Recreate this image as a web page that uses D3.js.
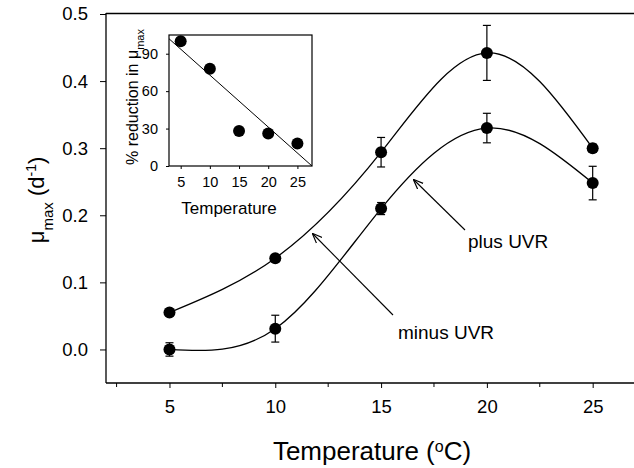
<!DOCTYPE html>
<html>
<head>
<meta charset="utf-8">
<script src="https://cdn.jsdelivr.net/npm/d3@7"></script>
<style>
  body { margin: 0; background: #fff; }
  svg { display: block; font-family: "Liberation Sans", Arial, sans-serif; }
</style>
</head>
<body>
<div id="chart"></div>
<script>
// temperatures (degC)
var temps = [5, 10, 15, 20, 25];

// mu max, upper curve (arrow says "minus UVR")
var upperMu = [0.055, 0.136, 0.294, 0.442, 0.300];
var upperErr = [0, 0, 0.022, 0.041, 0.006];

// mu max, lower curve (arrow says "plus UVR")
var lowerMu = [0.000, 0.031, 0.210, 0.330, 0.248];
var lowerErr = [0.010, 0.020, 0.009, 0.022, 0.025];

// inset: % reduction in mu max
var reduction = [100, 78, 28, 26, 18];
var fitLine = [[3, 102], [27.5, 0]];

var yTicks = [0.0, 0.1, 0.2, 0.3, 0.4, 0.5];
var xTicks = [5, 10, 15, 20, 25];
var xMinor = [2.5, 7.5, 12.5, 17.5, 22.5];
var insetYTicks = [0, 30, 60, 90];

var width = 634, height = 468;

var svg = d3.select("#chart").append("svg")
    .attr("width", width)
    .attr("height", height);

// main scales
var x = d3.scaleLinear().domain([2, 27]).range([106, 635]);
var y = d3.scaleLinear().domain([-0.05, 0.5]).range([383, 14]);

// frame top line
svg.append("line")
    .attr("x1", 106).attr("x2", 634)
    .attr("y1", 13.5).attr("y2", 13.5)
    .attr("stroke", "#000").attr("stroke-width", 1.3);

// y axis
var yAxis = svg.append("g")
    .attr("transform", "translate(106,0)")
    .call(d3.axisLeft(y).tickValues(yTicks).tickFormat(d3.format(".1f")).tickSize(6).tickPadding(12));
yAxis.select(".domain").attr("d", "M0,13V383");

// x axis
var xAxis = svg.append("g")
    .attr("transform", "translate(0,383)")
    .call(d3.axisBottom(x).tickValues(xTicks).tickFormat(d3.format("d")).tickSize(5).tickPadding(12));
xAxis.select(".domain").attr("d", "M106,0H634");
xAxis.selectAll(".minor").data(xMinor).enter().append("line")
    .attr("class", "minor")
    .attr("x1", function(d) { return x(d); })
    .attr("x2", function(d) { return x(d); })
    .attr("y1", 0).attr("y2", 4)
    .attr("stroke", "#000");

svg.selectAll(".domain").attr("stroke-width", 1.3);
svg.selectAll(".tick text").attr("font-size", 18.5).attr("fill", "#000")
    .attr("font-family", "Liberation Sans, Arial, sans-serif");

// axis titles
svg.append("text")
    .attr("x", 372).attr("y", 460)
    .attr("text-anchor", "middle")
    .attr("font-size", 26)
    .html('Temperature (<tspan baseline-shift="super" font-size="16">o</tspan>C)');

svg.append("text")
    .attr("transform", "translate(44,200) rotate(-90)")
    .attr("text-anchor", "middle")
    .attr("font-size", 22)
    .html('μ<tspan baseline-shift="sub" font-size="15">max</tspan> (d<tspan baseline-shift="super" font-size="14">-1</tspan>)');

// curves
var line = d3.line()
    .x(function(d) { return x(d[0]); })
    .y(function(d) { return y(d[1]); })
    .curve(d3.curveNatural);

[upperMu, lowerMu].forEach(function(series, si) {
    var errs = si === 0 ? upperErr : lowerErr;
    var pts = temps.map(function(t, i) { return [t, series[i], errs[i]]; });

    svg.append("path")
        .datum(pts)
        .attr("d", line)
        .attr("fill", "none")
        .attr("stroke", "#000")
        .attr("stroke-width", 1.3);

    var eb = svg.append("g").selectAll("g")
        .data(pts.filter(function(d) { return d[2] > 0; }))
        .enter().append("g");
    eb.append("line")
        .attr("x1", function(d) { return x(d[0]); })
        .attr("x2", function(d) { return x(d[0]); })
        .attr("y1", function(d) { return y(d[1] - d[2]); })
        .attr("y2", function(d) { return y(d[1] + d[2]); })
        .attr("stroke", "#000").attr("stroke-width", 1.2);
    [-1, 1].forEach(function(s) {
        eb.append("line")
            .attr("x1", function(d) { return x(d[0]) - 4; })
            .attr("x2", function(d) { return x(d[0]) + 4; })
            .attr("y1", function(d) { return y(d[1] + s * d[2]); })
            .attr("y2", function(d) { return y(d[1] + s * d[2]); })
            .attr("stroke", "#000").attr("stroke-width", 1.2);
    });

    svg.append("g").selectAll("circle")
        .data(pts)
        .enter().append("circle")
        .attr("cx", function(d) { return x(d[0]); })
        .attr("cy", function(d) { return y(d[1]); })
        .attr("r", 6)
        .attr("fill", "#000");
});

// arrow labels
svg.append("defs").append("marker")
    .attr("id", "arr")
    .attr("viewBox", "0 0 10 10")
    .attr("refX", 9).attr("refY", 5)
    .attr("markerWidth", 9).attr("markerHeight", 9)
    .attr("orient", "auto")
    .append("path")
    .attr("d", "M0,1L10,5L0,9")
    .attr("fill", "none")
    .attr("stroke", "#000")
    .attr("stroke-width", 1.2);

svg.append("line")
    .attr("x1", 465).attr("y1", 230)
    .attr("x2", 414).attr("y2", 180)
    .attr("stroke", "#000").attr("stroke-width", 1.1)
    .attr("marker-end", "url(#arr)");
svg.append("text")
    .attr("x", 468).attr("y", 248)
    .attr("font-size", 19)
    .text("plus UVR");

svg.append("line")
    .attr("x1", 393).attr("y1", 315)
    .attr("x2", 313).attr("y2", 234)
    .attr("stroke", "#000").attr("stroke-width", 1.1)
    .attr("marker-end", "url(#arr)");
svg.append("text")
    .attr("x", 398).attr("y", 339)
    .attr("font-size", 19)
    .text("minus UVR");

// inset
var ix = d3.scaleLinear().domain([3, 27.5]).range([169, 312]);
var iy = d3.scaleLinear().domain([0, 105]).range([166, 35]);

var inset = svg.append("g");
inset.append("rect")
    .attr("x", 169).attr("y", 35)
    .attr("width", 143).attr("height", 131)
    .attr("fill", "#fff")
    .attr("stroke", "#000").attr("stroke-width", 1.2);

inset.append("g")
    .attr("transform", "translate(0,166)")
    .call(d3.axisBottom(ix).tickValues(xTicks).tickFormat(d3.format("d")).tickSize(3).tickPadding(8));
inset.append("g")
    .attr("transform", "translate(169,0)")
    .call(d3.axisLeft(iy).tickValues(insetYTicks).tickFormat(d3.format("d")).tickSize(3).tickPadding(8));
inset.selectAll(".domain").remove();
inset.selectAll(".tick text").attr("font-size", 14.5).attr("fill", "#000")
    .attr("font-family", "Liberation Sans, Arial, sans-serif");

inset.append("line")
    .attr("x1", ix(fitLine[0][0])).attr("y1", iy(fitLine[0][1]))
    .attr("x2", ix(fitLine[1][0])).attr("y2", iy(fitLine[1][1]))
    .attr("stroke", "#000").attr("stroke-width", 1);

inset.selectAll("circle")
    .data(temps)
    .enter().append("circle")
    .attr("cx", function(d) { return ix(d); })
    .attr("cy", function(d, i) { return iy(reduction[i]); })
    .attr("r", 6)
    .attr("fill", "#000");

inset.append("text")
    .attr("x", 229).attr("y", 214)
    .attr("text-anchor", "middle")
    .attr("font-size", 17)
    .text("Temperature");

inset.append("text")
    .attr("transform", "translate(138,97) rotate(-90)")
    .attr("text-anchor", "middle")
    .attr("font-size", 16)
    .html('% reduction in μ<tspan baseline-shift="sub" font-size="11">max</tspan>');
</script>
</body>
</html>
